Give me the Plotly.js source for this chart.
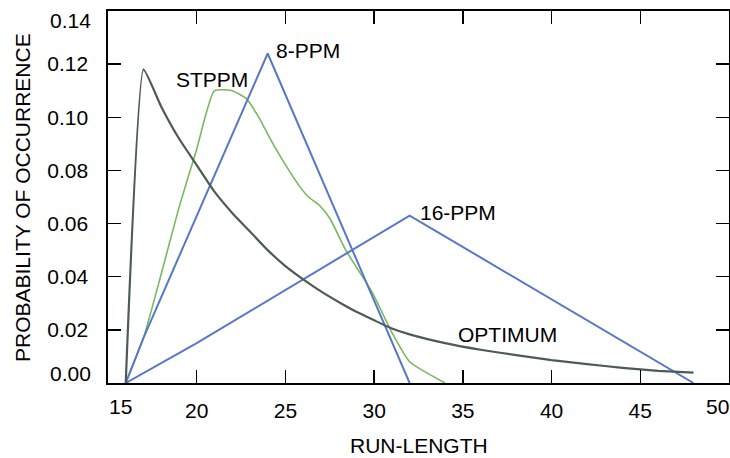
<!DOCTYPE html>
<html><head><meta charset="utf-8">
<script src="https://cdn.plot.ly/plotly-3.0.1.min.js"></script>
<style>html,body{margin:0;padding:0;background:#fff}#chart{width:730px;height:458px}</style>
</head><body><div id="chart"></div>
<script>
// OPTIMUM
const optX = [16, 17, 18, 19, 20, 21, 22, 23, 24, 25, 26, 27, 28, 29, 30, 31, 32, 34, 36, 38, 40, 42, 44, 46, 48];
const optY = [0, 0.118, 0.104, 0.092, 0.082, 0.072, 0.064, 0.057, 0.050, 0.044, 0.039, 0.0345, 0.0305, 0.0268, 0.0236, 0.0205, 0.0183, 0.015, 0.0125, 0.0105, 0.0086, 0.0071, 0.0057, 0.0046, 0.0039];
// 8-PPM
const ppm8X = [16, 17, 24, 32];
const ppm8Y = [0, 0.017, 0.124, 0];
// 16-PPM
const ppm16X = [16, 20, 32, 48];
const ppm16Y = [0, 0.015, 0.063, 0];
// STPPM
const stX = [16, 17, 18, 19, 20, 21, 22, 22.8, 23.5, 24.3, 25.2, 25.8, 26.3, 26.9, 27.5, 28.4, 29.9, 31, 32, 34];
const stY = [0, 0.017, 0.041, 0.066, 0.088, 0.110, 0.110, 0.107, 0.100, 0.090, 0.080, 0.074, 0.070, 0.067, 0.062, 0.050, 0.034, 0.019, 0.008, 0];

const xTickVals = [15, 20, 25, 30, 35, 40, 45, 50];
const xTickText = ["15", "20", "25", "30", "35", "40", "45", "50"];
const yTickVals = [0, 0.02, 0.04, 0.06, 0.08, 0.10, 0.12, 0.14];
const yTickText = ["0.00", "0.02", "0.04", "0.06", "0.08", "0.10", "0.12", "0.14"];

const seriesLabels = ["8-PPM", "STPPM", "16-PPM", "OPTIMUM"];
const labelX = [26.3, 20.85, 34.75, 37.5];
const labelY = [0.1253, 0.1142, 0.064, 0.0181];

const FONT = "Liberation Sans, Arial, sans-serif";

const traces = [
  {x: stX, y: stY, mode: 'lines', line: {color: '#78b85e', width: 1.6, shape: 'spline', smoothing: 0.5}, name: 'STPPM'},
  {x: ppm8X, y: ppm8Y, mode: 'lines', line: {color: '#5877c6', width: 2}, name: '8-PPM'},
  {x: ppm16X, y: ppm16Y, mode: 'lines', line: {color: '#5877c6', width: 2}, name: '16-PPM'},
  {x: optX, y: optY, mode: 'lines', line: {color: '#4c5c54', width: 2.2, shape: 'spline', smoothing: 0.4}, name: 'OPTIMUM'}
];

// blank the end tick labels; they are drawn as annotations kept inside the frame
const xText = xTickText.map((t, i) => (i === 0 || i === xTickText.length - 1) ? '' : t);
const yText = yTickText.map((t, i) => (i === 0 || i === yTickText.length - 1) ? '' : t);

const annotations = seriesLabels.map((t, i) => ({
  x: labelX[i], y: labelY[i], xref: 'x', yref: 'y', text: t, showarrow: false,
  xanchor: 'center', yanchor: 'middle', font: {family: FONT, size: 21, color: '#000'}
}));
const tf = {family: FONT, size: 21, color: '#000'};
annotations.push(
  {x: xTickVals[0], y: 0, xref: 'x', yref: 'paper', text: xTickText[0], showarrow: false, xanchor: 'left', yanchor: 'top', yshift: -10, xshift: -1, font: tf},
  {x: xTickVals[xTickVals.length - 1], y: 0, xref: 'x', yref: 'paper', text: xTickText[xTickText.length - 1], showarrow: false, xanchor: 'right', yanchor: 'top', yshift: -10, xshift: 2, font: tf},
  {x: 0, y: yTickVals[0], xref: 'paper', yref: 'y', text: yTickText[0], showarrow: false, xanchor: 'right', yanchor: 'bottom', xshift: -15, yshift: -4, font: tf},
  {x: 0, y: yTickVals[yTickVals.length - 1], xref: 'paper', yref: 'y', text: yTickText[yTickText.length - 1], showarrow: false, xanchor: 'right', yanchor: 'top', xshift: -15, yshift: 4, font: tf},
  {x: 0.5, y: -0.1667, xref: 'paper', yref: 'paper', text: 'RUN-LENGTH', showarrow: false, xanchor: 'center', yanchor: 'middle', font: tf},
  {x: -0.1385, y: 0.5, xref: 'paper', yref: 'paper', text: 'PROBABILITY OF OCCURRENCE', textangle: -90, showarrow: false, xanchor: 'center', yanchor: 'middle', font: tf}
);

const axisCommon = {
  showgrid: false, zeroline: false, showline: true, linecolor: '#000', linewidth: 1.6,
  mirror: 'ticks', ticks: 'inside', ticklen: 13, tickwidth: 1.3, tickcolor: '#000',
  tickfont: tf, tickmode: 'array'
};

const layout = {
  width: 730, height: 458,
  margin: {l: 108, r: 1, t: 11, b: 75, pad: 0},
  paper_bgcolor: '#fff', plot_bgcolor: '#fff',
  showlegend: false,
  font: {family: FONT, color: '#000'},
  xaxis: Object.assign({}, axisCommon, {range: [15, 50], tickvals: xTickVals, ticktext: xText, ticklabelstandoff: 8}),
  yaxis: Object.assign({}, axisCommon, {range: [0, 0.14], tickvals: yTickVals, ticktext: yText, ticklabelstandoff: 14}),
  annotations: annotations
};

Plotly.newPlot('chart', traces, layout, {displayModeBar: false, staticPlot: true});
</script>
</body></html>
